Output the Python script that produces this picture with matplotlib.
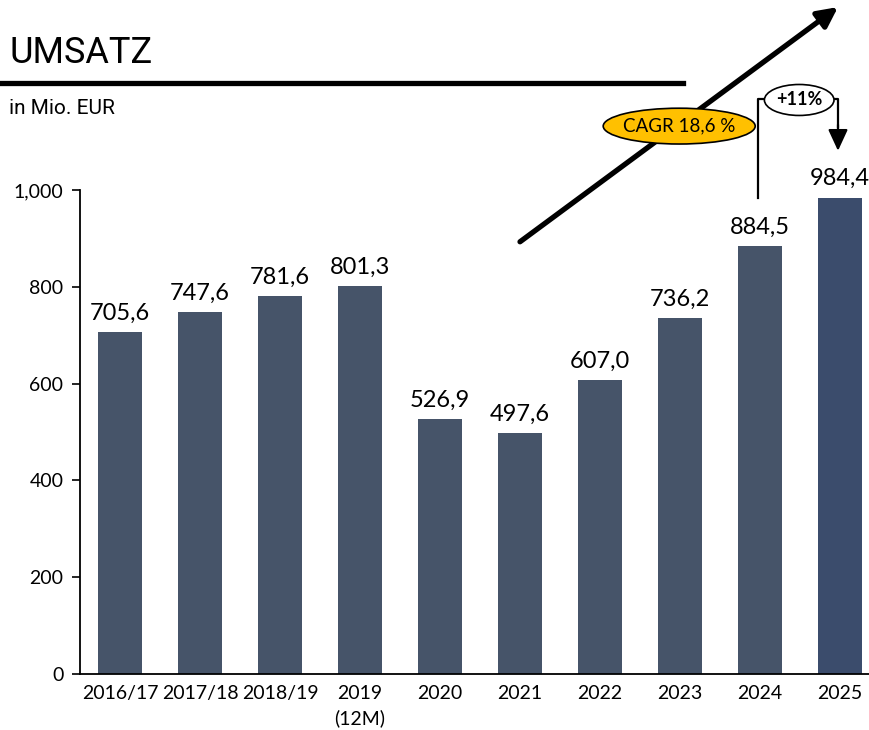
import numpy as np
import matplotlib.pyplot as plt
from matplotlib.patches import Ellipse

# Daten
jahre = ['2016/17', '2017/18', '2018/19', '2019\n(12M)', '2020', '2021',
         '2022', '2023', '2024', '2025']
umsatz = [705.6, 747.6, 781.6, 801.3, 526.9, 497.6, 607.0, 736.2, 884.5, 984.4]
cagr_text = 'CAGR 18,6 %'
plus_text = '+11%'

farbe = '#465469'
farbe_last = '#3b4c6c'
schrift = ['Lato', 'DejaVu Sans']

plt.rcParams['font.family'] = schrift

fig = plt.figure(figsize=(8.69, 7.30), dpi=100)
W, H = 869.0, 730.0
ax = fig.add_axes([80/W, (H-674)/H, (W-80)/W, 484/H])

x = np.arange(len(jahre))
cols = [farbe]*(len(jahre)-1) + [farbe_last]
ax.bar(x, umsatz, width=0.56, color=cols, zorder=2)

for xi, v in zip(x, umsatz):
    ax.annotate(f'{v:.1f}'.replace('.', ','), (xi, v), xytext=(0, 6),
                textcoords='offset points', ha='center', va='bottom',
                fontsize=17)

ax.set_xlim(-0.5, -0.5 + (W-80)/80)
ax.set_ylim(0, 1000)
ax.set_yticks(np.arange(0, 1001, 200))
ax.set_yticklabels([f'{t:,}' for t in range(0, 1001, 200)])
ax.set_xticks(x)
ax.set_xticklabels(jahre, linespacing=1.45)
ax.tick_params(axis='x', length=0, pad=8, labelsize=14)
ax.tick_params(axis='y', length=6, width=1.2, direction='out', labelsize=14, pad=6)
ax.spines['top'].set_visible(False)
ax.spines['right'].set_visible(False)
ax.spines['left'].set_linewidth(1.3)
ax.spines['bottom'].set_linewidth(1.3)

# Titel
fig.text(9/W, 1-53/H, 'UMSATZ', fontsize=26, va='center', ha='left',
         family=['Roboto', 'DejaVu Sans'])
fig.text(9/W, 1-109/H, 'in Mio. EUR', fontsize=15, va='center', ha='left',
         family=['Roboto', 'DejaVu Sans'])
fig.add_artist(plt.Line2D([0, 683/W], [1-83/H, 1-83/H], color='black', lw=3.8,
                          transform=fig.transFigure))

# CAGR Pfeil
ax.annotate('', xy=(8.975, 1378), xytext=(5.0, 893), xycoords='data',
            arrowprops=dict(arrowstyle='-|>,head_length=1.2,head_width=0.6',
                            lw=3.8, color='black', shrinkA=0, shrinkB=0),
            annotation_clip=False, zorder=5)
ell = Ellipse((6.99, 1132), 1.9, 74, facecolor='#ffc000', edgecolor='black',
              lw=1.2, clip_on=False, zorder=6)
ax.add_patch(ell)
ax.text(6.99, 1132, cagr_text, ha='center', va='center', fontsize=13.5,
        zorder=7, clip_on=False)

# +11% Klammer
ax.plot([7.975, 7.975, 8.1], [983, 1188, 1188], color='black', lw=1.6,
        clip_on=False, zorder=5)
ax.plot([8.9, 8.975, 8.975], [1188, 1188, 1130], color='black', lw=1.6,
        clip_on=False, zorder=5)
ax.annotate('', xy=(8.975, 1081), xytext=(8.975, 1135),
            arrowprops=dict(arrowstyle='-|>,head_length=1.3,head_width=0.6',
                            lw=1.6, color='black', shrinkA=0, shrinkB=0),
            annotation_clip=False, zorder=5)
ell2 = Ellipse((8.49, 1186), 0.87, 64, facecolor='white', edgecolor='black',
               lw=1.2, clip_on=False, zorder=6)
ax.add_patch(ell2)
ax.text(8.49, 1186, plus_text, ha='center', va='center', fontsize=13,
        fontweight='bold', zorder=7, clip_on=False)

fig.savefig('out.png', dpi=100)
